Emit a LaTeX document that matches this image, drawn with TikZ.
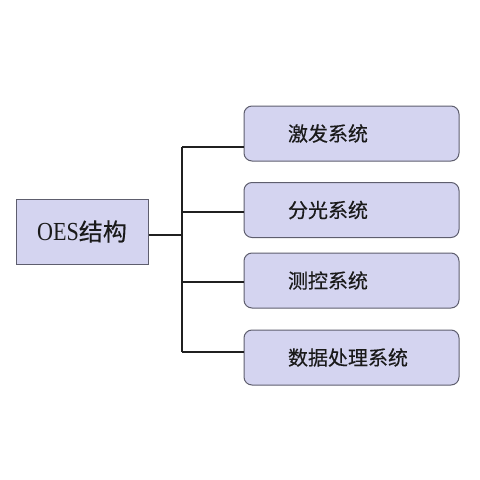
\documentclass[tikz,border=0pt]{standalone}
\usepackage{fontspec}
\newfontfamily\cjk[FakeBold=0.4]{Noto Sans CJK SC}
\newfontfamily\oesfont[FakeStretch=0.85]{Liberation Serif}
\definecolor{boxfill}{HTML}{D4D4F0}
\definecolor{boxline}{HTML}{5E5E6E}
\definecolor{conn}{HTML}{202020}
\definecolor{txt}{HTML}{1A1A1A}
\begin{document}
\begin{tikzpicture}[x=1pt,y=-1pt,
  mainbox/.style={draw=boxline, fill=boxfill, line width=1pt, minimum width=132pt, minimum height=65pt, inner sep=0pt, text=txt},
  sysbox/.style={draw=boxline, fill=boxfill, line width=1pt, rounded corners=8pt, minimum width=215pt, minimum height=55pt, text width=215pt, inner xsep=0pt, align=left, text=txt, font=\cjk\fontsize{20}{22}\selectfont},
  link/.style={draw=conn, line width=1.4pt}]
\useasboundingbox (0,0) rectangle (480,480);
\node[mainbox] (oes) at (82,231.5) {\oesfont\fontsize{26}{30}\selectfont OES\cjk\fontsize{24}{30}\selectfont 结构};
\node[sysbox] (b1) at (351.5,133.5) {\hspace*{44pt}激发系统};
\node[sysbox] (b2) at (351.5,210) {\hspace*{44pt}分光系统};
\node[sysbox] (b3) at (351.5,280.5) {\hspace*{44pt}测控系统};
\node[sysbox] (b4) at (351.5,357.5) {\hspace*{44pt}数据处理系统};
\coordinate (j0) at (182,235);
\coordinate (j1) at (182,147);
\coordinate (j2) at (182,212);
\coordinate (j3) at (182,282);
\coordinate (j4) at (182,352);
\draw[link] (j1) -- (j4);
\draw[link] (oes.east |- j0) -- (j0);
\draw[link] (j1) -- (b1.west |- j1);
\draw[link] (j2) -- (b2.west |- j2);
\draw[link] (j3) -- (b3.west |- j3);
\draw[link] (j4) -- (b4.west |- j4);
\end{tikzpicture}
\end{document}
